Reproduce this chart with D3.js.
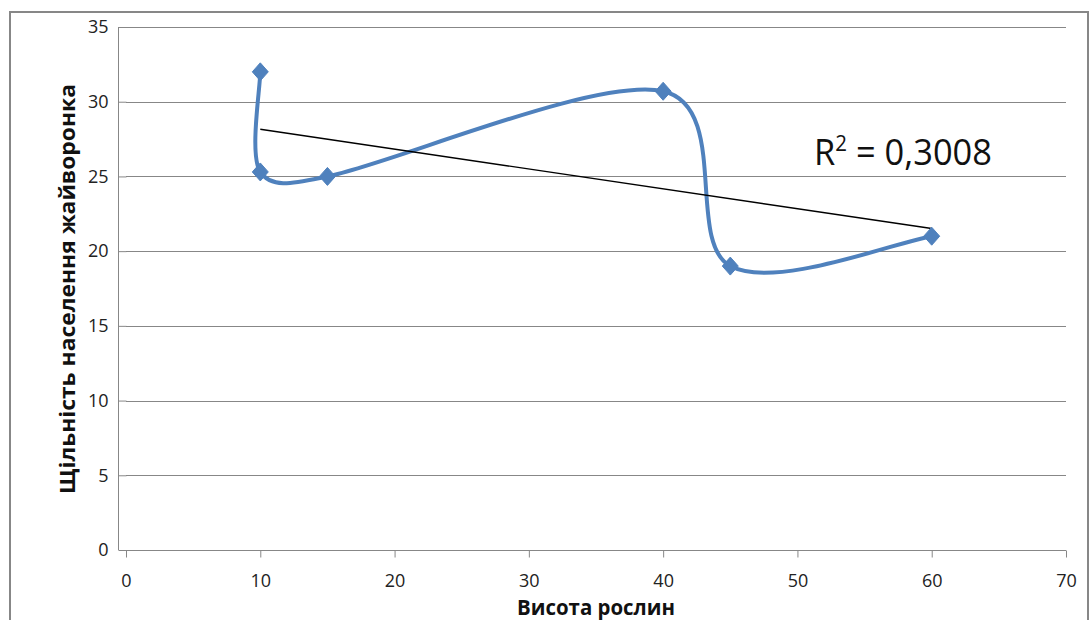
<!DOCTYPE html>
<html>
<head>
<meta charset="utf-8">
<script src="https://cdn.jsdelivr.net/npm/d3@7"></script>
<style>
  html, body { margin: 0; padding: 0; background: #fff; }
  svg { display: block; font-family: "Open Sans", "DejaVu Sans", sans-serif; }
</style>
</head>
<body>
<svg id="chart" width="1090" height="620"></svg>
<script>
// Plant height vs. skylark population density
const heights = [10, 10, 15, 40, 45, 60];
const densities = [32, 25.3, 25, 30.7, 19, 21];
const xTicks = [0, 10, 20, 30, 40, 50, 60, 70];
const yTicks = [0, 5, 10, 15, 20, 25, 30, 35];
const xTitle = "Висота рослин";
const yTitle = "Щільність населення жайворонка";

const svg = d3.select("#chart");
const plot = { left: 126, right: 1066, top: 27, bottom: 550 };

const x = d3.scaleLinear().domain([0, 70]).range([plot.left, plot.right]);
const y = d3.scaleLinear().domain([0, 35]).range([plot.bottom, plot.top]);

const grey = "#878787";

// chart frame
svg.append("rect")
  .attr("x", 10).attr("y", 12)
  .attr("width", 1078).attr("height", 620)
  .attr("fill", "#fff")
  .attr("stroke", grey).attr("stroke-width", 2);

// horizontal gridlines
svg.append("g")
  .selectAll("line")
  .data(yTicks.filter(d => d > 0))
  .join("line")
  .attr("x1", plot.left).attr("x2", plot.right)
  .attr("y1", d => Math.round(y(d)) + 0.5).attr("y2", d => Math.round(y(d)) + 0.5)
  .attr("stroke", grey).attr("stroke-width", 1);

// axes
const yAxis = svg.append("g")
  .attr("transform", `translate(${plot.left + 0.5},0)`)
  .call(d3.axisLeft(y).tickValues(yTicks).tickSize(8).tickPadding(10).tickFormat(d3.format("d")));
const xAxis = svg.append("g")
  .attr("transform", `translate(0,${plot.bottom + 0.5})`)
  .call(d3.axisBottom(x).tickValues(xTicks).tickSize(7).tickPadding(17).tickFormat(d3.format("d")));

[yAxis, xAxis].forEach(a => {
  a.select(".domain").attr("stroke", grey).attr("stroke-width", 1);
  a.selectAll(".tick line").attr("stroke", grey);
  a.selectAll(".tick text")
    .attr("fill", "#222")
    .style("font-family", '"Open Sans", sans-serif')
    .style("font-size", "18px");
});
yAxis.select(".domain").attr("d", `M-8,${plot.bottom}V${plot.top}`);
xAxis.select(".domain").attr("d", `M${plot.left},0H${plot.right}`);

// axis titles
svg.append("text")
  .attr("x", 596).attr("y", 615)
  .attr("text-anchor", "middle")
  .attr("textLength", 158).attr("lengthAdjust", "spacingAndGlyphs")
  .style("font-size", "21px").style("font-weight", "bold")
  .attr("fill", "#111")
  .text(xTitle);

svg.append("text")
  .attr("transform", "translate(75,289) rotate(-90)")
  .attr("text-anchor", "middle")
  .attr("textLength", 410).attr("lengthAdjust", "spacingAndGlyphs")
  .style("font-size", "21px").style("font-weight", "bold")
  .attr("fill", "#111")
  .text(yTitle);

// linear regression trend line
const pts = heights.map((h, i) => [h, densities[i]]);
const mx = d3.mean(heights), my = d3.mean(densities);
const sxy = d3.sum(pts, p => (p[0] - mx) * (p[1] - my));
const sxx = d3.sum(pts, p => (p[0] - mx) ** 2);
const syy = d3.sum(pts, p => (p[1] - my) ** 2);
const slope = sxy / sxx, intercept = my - slope * mx;
const r2 = (sxy * sxy) / (sxx * syy);
const [xMin, xMax] = d3.extent(heights);

// smoothed line: cubic Bezier segments with 1/6 tangents,
// each control arm capped at half of its segment length
function smoothPath(points) {
  const P = points.map(p => [x(p[0]), y(p[1])]);
  const path = d3.path();
  path.moveTo(P[0][0], P[0][1]);
  const n = P.length;
  for (let i = 0; i < n - 1; i++) {
    const p0 = P[Math.max(i - 1, 0)], p1 = P[i], p2 = P[i + 1], p3 = P[Math.min(i + 2, n - 1)];
    const seg = Math.hypot(p2[0] - p1[0], p2[1] - p1[1]);
    let a = [(p2[0] - p0[0]) / 6, (p2[1] - p0[1]) / 6];
    let b = [(p3[0] - p1[0]) / 6, (p3[1] - p1[1]) / 6];
    const la = Math.hypot(a[0], a[1]), lb = Math.hypot(b[0], b[1]);
    if (la > seg / 2) a = a.map(v => v * (seg / 2) / la);
    if (lb > seg / 2) b = b.map(v => v * (seg / 2) / lb);
    path.bezierCurveTo(p1[0] + a[0], p1[1] + a[1], p2[0] - b[0], p2[1] - b[1], p2[0], p2[1]);
  }
  return path.toString();
}

svg.append("path")
  .attr("d", smoothPath(pts))
  .attr("fill", "none")
  .attr("stroke", "#4F81BD")
  .attr("stroke-width", 4)
  .attr("stroke-linejoin", "round");

svg.append("line")
  .attr("x1", x(xMin)).attr("y1", y(intercept + slope * xMin))
  .attr("x2", x(xMax)).attr("y2", y(intercept + slope * xMax))
  .attr("stroke", "#000").attr("stroke-width", 1.4);

// diamond markers
svg.append("g")
  .selectAll("path")
  .data(pts)
  .join("path")
  .attr("transform", p => `translate(${x(p[0])},${y(p[1])})`)
  .attr("d", "M0,-9L8,0L0,9L-8,0Z")
  .attr("fill", "#4F81BD")
  .attr("stroke", "#4F81BD")
  .attr("stroke-width", 1);

// R² label
const r2Text = svg.append("text")
  .attr("x", 814).attr("y", 165)
  .attr("textLength", 178).attr("lengthAdjust", "spacingAndGlyphs")
  .style("font-size", "37px")
  .attr("fill", "#111");
r2Text.append("tspan").text("R");
r2Text.append("tspan").attr("dy", -14).style("font-size", "22px").text("2");
r2Text.append("tspan").attr("dy", 14).text(" = " + r2.toFixed(4).replace(".", ","));
</script>
</body>
</html>
